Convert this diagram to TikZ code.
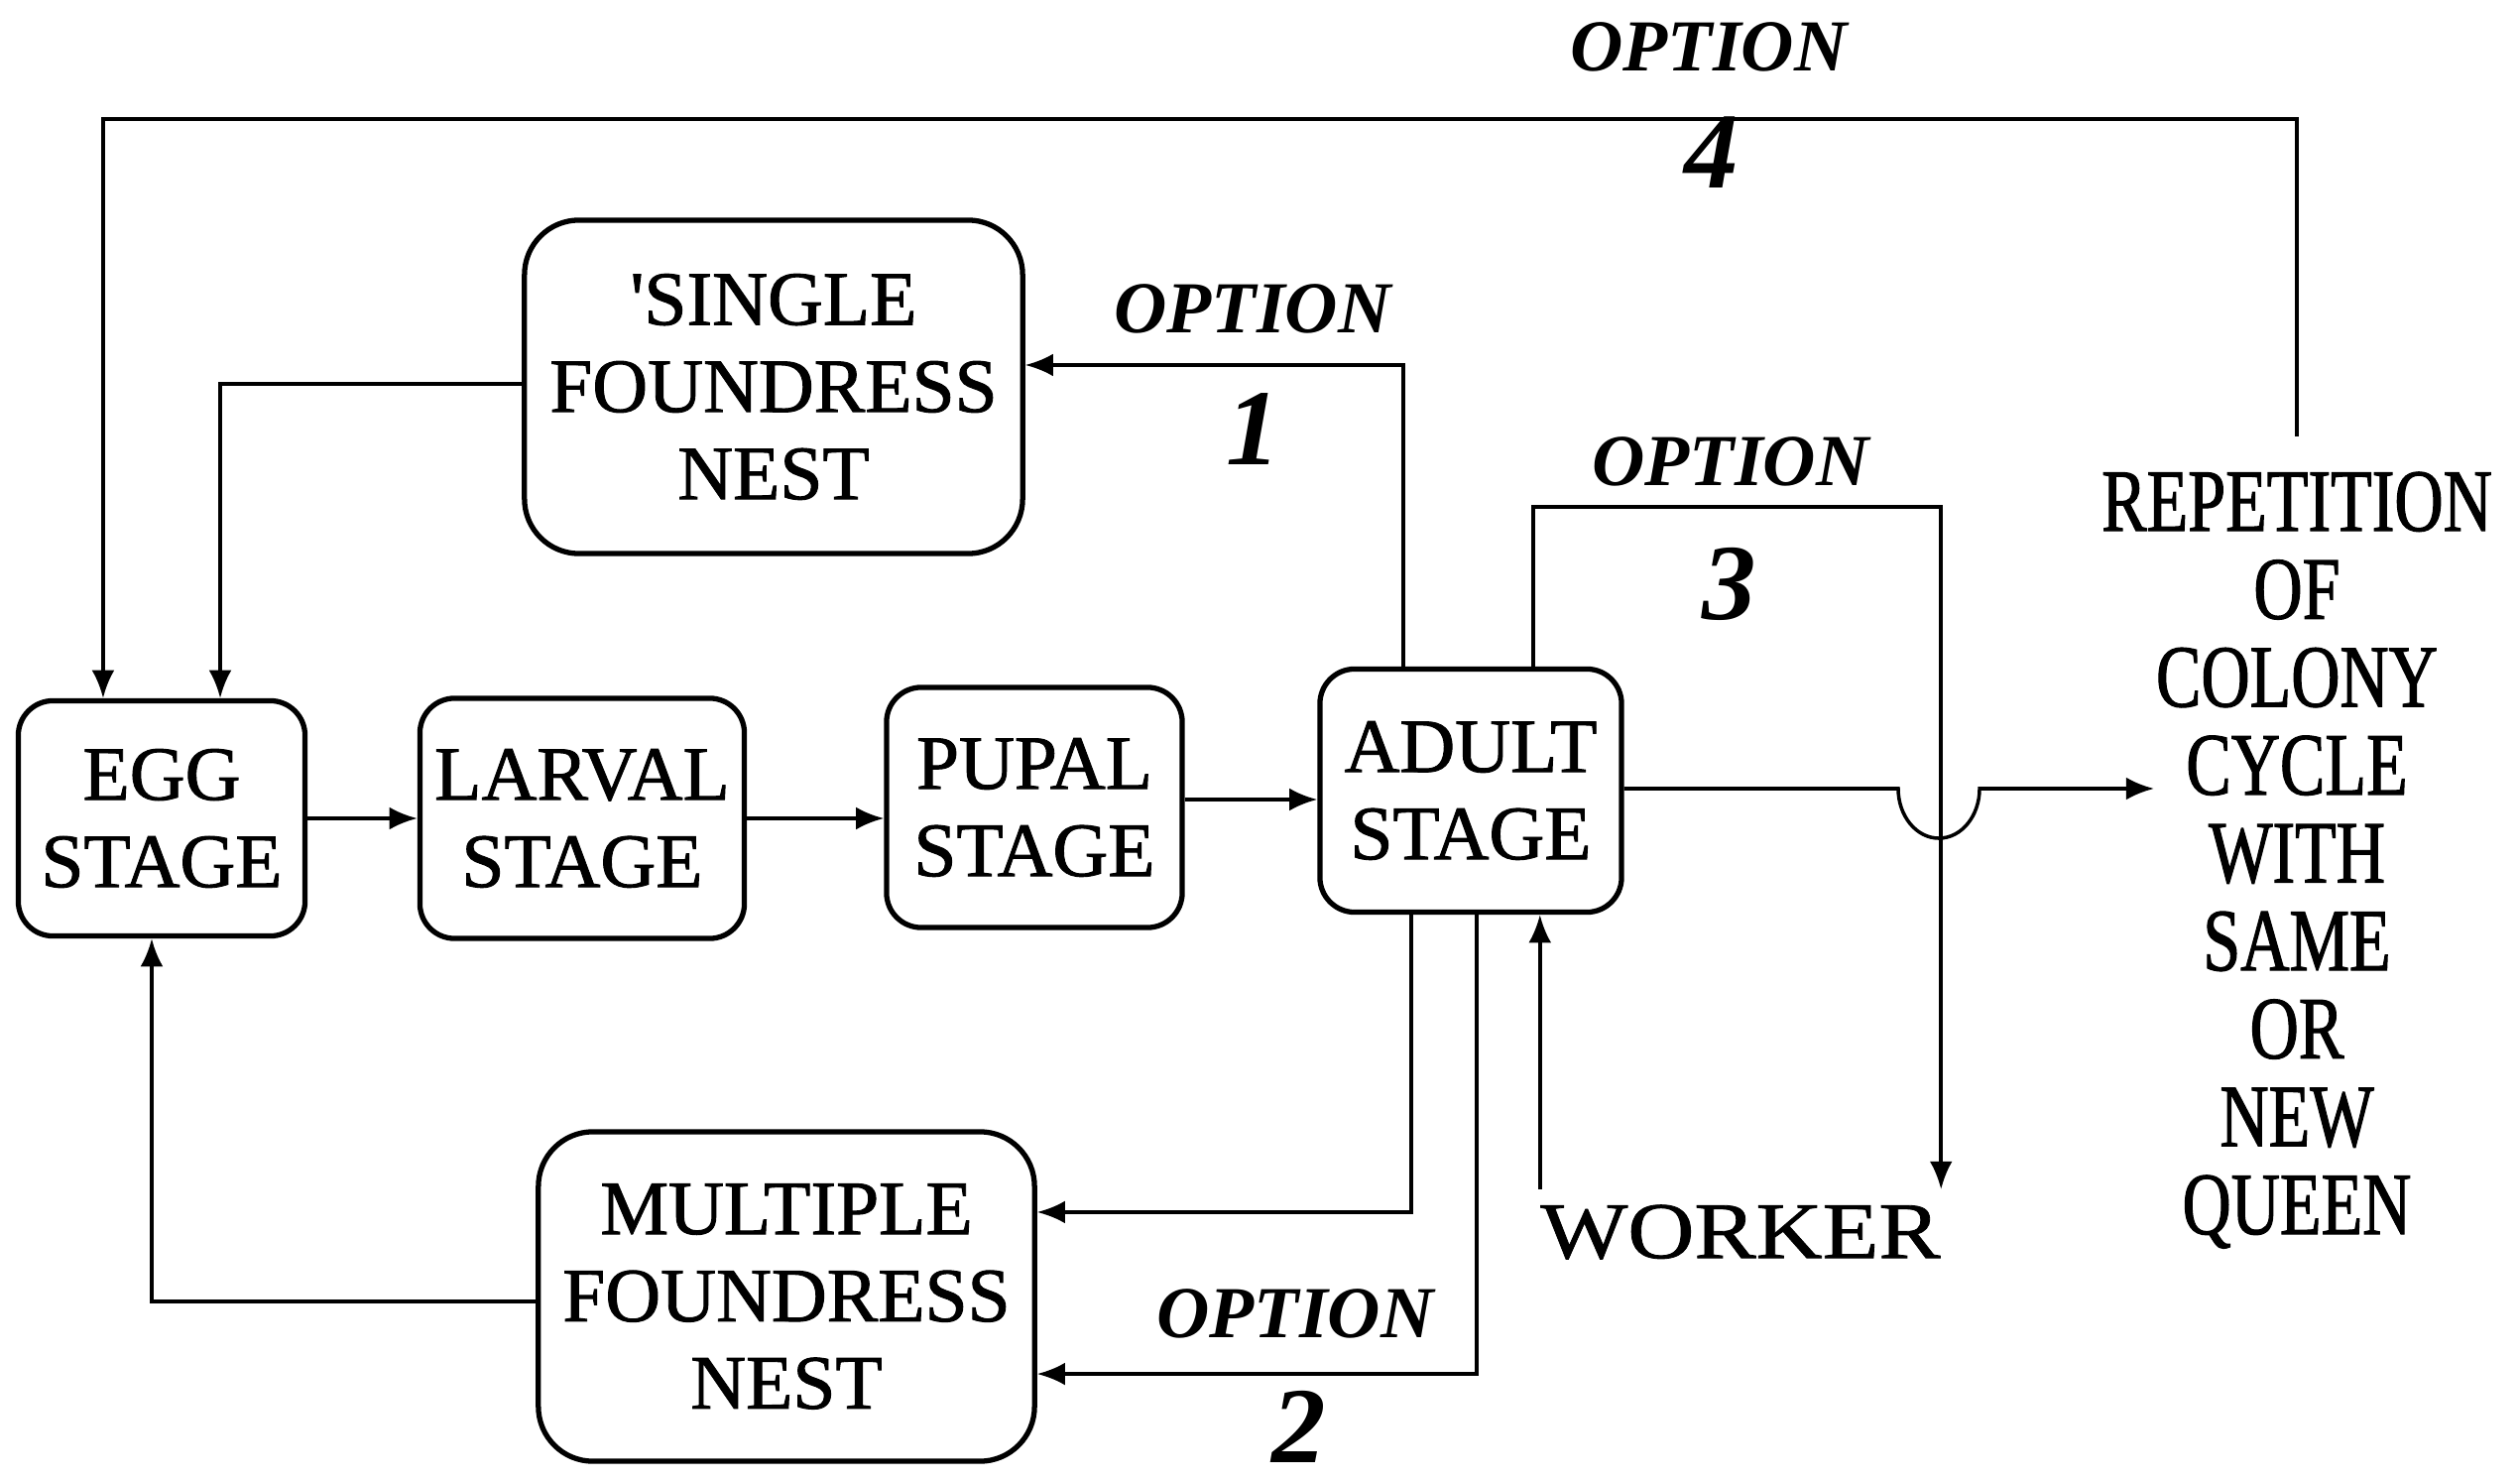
\documentclass[tikz,border=0pt]{standalone}
\usepackage{fontspec}
\setmainfont{Liberation Serif}
\newfontfamily\boxfont[FakeBold=1.2]{Liberation Serif}
\newfontfamily\repfont[FakeStretch=0.76,FakeBold=1.2]{Liberation Serif}
\newfontfamily\wkfont[FakeStretch=1.15,FakeBold=1.0]{Liberation Serif}
\usetikzlibrary{arrows.meta}
\begin{document}
\begin{tikzpicture}[x=0.01cm,y=-0.01cm,
  stage/.style={draw,line width=1.5pt,rounded corners=0.35cm,align=center,inner sep=0pt,font=\boxfont\fontsize{22}{25}\selectfont},
  nest/.style={stage,rounded corners=0.55cm},
  conn/.style={line width=1pt,-{Latex[length=8pt,width=6.5pt]}},
  opt/.style={font=\fontsize{21}{24}\selectfont\bfseries\itshape,inner sep=0pt},
  num/.style={font=\fontsize{31}{34}\selectfont\bfseries\itshape,inner sep=0pt}]
\fill[white] (0,0) rectangle (2541,1494);
\useasboundingbox (0,0) rectangle (2541,1494);

% boxes
\node[stage,minimum width=2.89cm,minimum height=2.37cm] (egg) at (163,825) {EGG\\STAGE};
\node[stage,minimum width=3.27cm,minimum height=2.42cm] (larval) at (587,825) {LARVAL\\STAGE};
\node[stage,minimum width=2.98cm,minimum height=2.42cm] (pupal) at (1043,814) {PUPAL\\STAGE};
\node[stage,minimum width=3.04cm,minimum height=2.45cm] (adult) at (1483,797) {ADULT\\STAGE};
\node[nest,minimum width=5.02cm,minimum height=3.36cm] (single) at (780,390) {'SINGLE\\FOUNDRESS\\NEST};
\node[nest,minimum width=5.0cm,minimum height=3.32cm] (multiple) at (793,1307) {MULTIPLE\\FOUNDRESS\\NEST};

% free texts
\node[font=\repfont\fontsize{25.5}{25.2}\selectfont,align=center,inner xsep=0pt,inner ysep=0.35cm,anchor=north] (rep) at (2316,440)
  {REPETITION\\OF\\COLONY\\CYCLE\\WITH\\SAME\\OR\\NEW\\QUEEN};
\node[font=\wkfont\fontsize{23}{26}\selectfont,inner xsep=0pt,inner ysep=0.15cm,minimum width=4.0cm] (worker) at (1755,1242) {WORKER};

% option labels
\node[opt] (o4) at (1723,47) {OPTION};
\node[num] (n4) at (1726,154) {4};
\node[opt] (o1) at (1263,311) {OPTION};
\node[num] (n1) at (1264,433) {1};
\node[opt] (o3) at (1745,465) {OPTION};
\node[num] (n3) at (1744,589) {3};
\node[opt] (o2) at (1306,1324) {OPTION};
\node[num] (n2) at (1310,1438) {2};

% helper coordinates
\coordinate (topy) at (0,120);
\coordinate (o3y) at (0,511);
\coordinate (repin) at (2172,795);
\coordinate (bumpl) at (1914,795);

% main chain
\draw[conn] (egg.east) -- (larval.west);
\draw[conn] (larval.east) -- (larval.east -| pupal.west);
\draw[conn] ([yshift=0.08cm]pupal.east) -- ([yshift=0.08cm]pupal.east -| adult.west);

% option 4
\draw[conn] (rep.north) -- (rep.north |- topy) -| ([xshift=-0.59cm]egg.north);
% single foundress -> egg
\draw[conn] ([yshift=0.03cm]single.west) -| ([xshift=0.59cm]egg.north);
% option 1
\draw[conn] ([xshift=-0.68cm]adult.north) |- ([yshift=0.22cm]single.east);
% option 3
\draw[conn] ([xshift=0.63cm]adult.north) |- (worker.north east |- o3y) -- (worker.north east);
% adult -> repetition with jump
\draw[conn] ([yshift=0.02cm]adult.east) -- (bumpl) arc[start angle=180,end angle=360,x radius=0.41cm,y radius=0.5cm] -- (repin);
% worker -> adult
\draw[conn] (worker.north west) -- (worker.north west |- adult.south);
% option 2
\draw[conn] ([xshift=-0.60cm]adult.south) |- ([yshift=0.85cm]multiple.east);
\draw[conn] ([xshift=0.06cm]adult.south) |- ([yshift=-0.78cm]multiple.east);
% multiple foundress -> egg
\draw[conn] ([yshift=-0.05cm]multiple.west) -| ([xshift=-0.10cm]egg.south);
\end{tikzpicture}
\end{document}
